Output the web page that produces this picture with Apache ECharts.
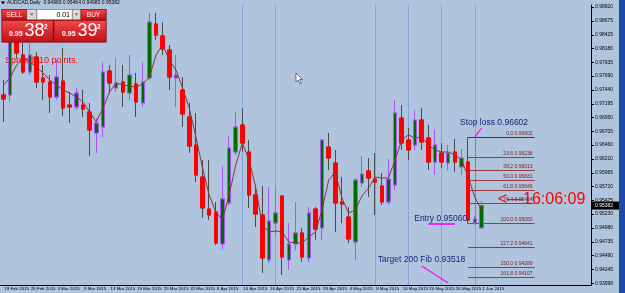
<!DOCTYPE html>
<html>
<head>
<meta charset="utf-8">
<script src="https://cdn.jsdelivr.net/npm/echarts@6/dist/echarts.min.js"></script>
<style>
  html, body { margin: 0; padding: 0; background: #b0c4de; }
  #main { width: 625px; height: 293px; }
</style>
</head>
<body>
<div id="main"></div>
<script>
// AUDCAD daily
const dates = ['19 Feb 2015','20 Feb 2015','23 Feb 2015','24 Feb 2015','25 Feb 2015','26 Feb 2015','27 Feb 2015',
  '2 Mar 2015','3 Mar 2015','4 Mar 2015','5 Mar 2015','6 Mar 2015','9 Mar 2015','10 Mar 2015','11 Mar 2015','12 Mar 2015','13 Mar 2015',
  '16 Mar 2015','17 Mar 2015','18 Mar 2015','19 Mar 2015','20 Mar 2015','23 Mar 2015','24 Mar 2015','25 Mar 2015','26 Mar 2015','27 Mar 2015',
  '30 Mar 2015','31 Mar 2015','1 Apr 2015','2 Apr 2015','3 Apr 2015','6 Apr 2015','7 Apr 2015','8 Apr 2015','9 Apr 2015','10 Apr 2015',
  '13 Apr 2015','14 Apr 2015','15 Apr 2015','16 Apr 2015','17 Apr 2015','20 Apr 2015','21 Apr 2015','22 Apr 2015','23 Apr 2015','24 Apr 2015',
  '27 Apr 2015','28 Apr 2015','29 Apr 2015','30 Apr 2015','1 May 2015','4 May 2015','5 May 2015','6 May 2015','7 May 2015','8 May 2015',
  '11 May 2015','12 May 2015','13 May 2015','14 May 2015','15 May 2015','18 May 2015','19 May 2015','20 May 2015','21 May 2015','22 May 2015',
  '25 May 2015','26 May 2015','27 May 2015','28 May 2015','29 May 2015','1 Jun 2015'];

const opens = [0.97352,0.97352,0.98332,0.98065,0.97762,0.98029,0.97655,0.97584,0.97316,0.97601,
  0.97174,0.97138,0.97174,0.97049,0.96675,0.96782,0.97780,0.97477,0.97584,0.97387,
  0.97548,0.97209,0.97655,0.98617,0.98403,0.98154,0.97655,0.97441,0.96960,0.96461,
  0.95891,0.95320,0.95267,0.94697,0.95427,0.96336,0.96817,0.96336,0.95570,0.95213,
  0.94412,0.95071,0.95552,0.94412,0.94697,0.94893,0.94447,0.95320,0.94982,0.96425,
  0.96140,0.95445,0.95178,0.94732,0.95784,0.95998,0.95855,0.95730,0.95445,0.95748,
  0.96942,0.96550,0.96461,0.96906,0.96586,0.96158,0.96318,0.96140,0.96336,0.96069,
  0.96158,0.95071,0.94983];
const closes = [0.97280,0.98368,0.98100,0.97762,0.98065,0.97584,0.97584,0.97316,0.97673,0.97120,
  0.97138,0.97387,0.97102,0.96728,0.96853,0.97762,0.97566,0.97566,0.97405,0.97708,
  0.97227,0.97584,0.98653,0.98421,0.98172,0.97673,0.97708,0.97013,0.96443,0.95926,
  0.95338,0.95213,0.94714,0.95499,0.96407,0.96782,0.96496,0.95570,0.95231,0.94447,
  0.95106,0.95249,0.94465,0.94697,0.94893,0.94465,0.95249,0.94964,0.96550,0.96229,
  0.95427,0.95409,0.94786,0.95837,0.95944,0.95873,0.95801,0.95445,0.95855,0.97031,
  0.96496,0.96372,0.96906,0.96514,0.96158,0.96461,0.96158,0.96318,0.96158,0.96229,
  0.95124,0.95142,0.95382];
const lows = [0.96871,0.97227,0.98011,0.97726,0.97708,0.97477,0.97263,0.97031,0.97263,0.96978,
  0.96853,0.97085,0.96960,0.96265,0.96318,0.96603,0.97387,0.97405,0.97138,0.97263,
  0.96960,0.97138,0.97619,0.98332,0.98065,0.97441,0.97138,0.96782,0.96318,0.95801,
  0.95160,0.95124,0.94679,0.94607,0.95392,0.96283,0.96336,0.95338,0.95000,0.94180,
  0.94358,0.94857,0.94144,0.94233,0.94590,0.94376,0.94376,0.94768,0.94768,0.96015,
  0.94910,0.95071,0.94714,0.94412,0.95712,0.95534,0.95213,0.95392,0.95392,0.95659,
  0.96372,0.96194,0.96372,0.96372,0.96015,0.95926,0.96051,0.96015,0.95980,0.95926,
  0.95060,0.95035,0.94983];
const highs = [0.97619,0.98510,0.98421,0.98278,0.98278,0.98118,0.97886,0.97708,0.97975,0.98189,
  0.97405,0.97477,0.97441,0.97209,0.96942,0.97940,0.97886,0.98011,0.97886,0.98065,
  0.97744,0.97940,0.98813,0.98813,0.98653,0.98243,0.98065,0.97673,0.97209,0.97031,
  0.96194,0.96194,0.95445,0.96087,0.96621,0.97049,0.97120,0.96550,0.95748,0.95730,
  0.95712,0.95712,0.95552,0.95071,0.95445,0.94982,0.95356,0.95356,0.96568,0.96675,
  0.96372,0.95891,0.95356,0.95873,0.96265,0.96229,0.96318,0.95962,0.96211,0.97263,
  0.97174,0.96764,0.97085,0.97120,0.96817,0.96728,0.96496,0.96461,0.96568,0.96389,
  0.96602,0.95196,0.95464];

// thin moving average drawn over the candles
const ma = [0.97530,0.97655,0.97886,0.98011,0.97940,0.97851,0.97744,0.97619,0.97530,0.97441,
  0.97387,0.97316,0.97227,0.97049,0.96871,0.97120,0.97405,0.97566,0.97530,0.97512,
  0.97494,0.97548,0.97673,0.98065,0.98243,0.97975,0.97797,0.97477,0.97120,0.96603,
  0.96051,0.95570,0.95267,0.95124,0.95570,0.96104,0.96496,0.96194,0.95712,0.95035,
  0.94910,0.94928,0.94910,0.94732,0.94714,0.94714,0.94821,0.94910,0.95302,0.95837,
  0.95980,0.95516,0.95249,0.95302,0.95552,0.95695,0.95891,0.95873,0.95873,0.96194,
  0.96550,0.96639,0.96586,0.96603,0.96461,0.96372,0.96336,0.96336,0.96283,0.96194,
  0.95891,0.95534,0.95302];

// fractal arrows [bar index, price]
const upFractals = [[9,0.98296],[12,0.97494],[17,0.98100],[20,0.97797],[24,0.98777],[36,0.97174],
  [42,0.95623],[50,0.96425],[55,0.96407],[68,0.96639]];
const downFractals = [[4,0.97673],[8,0.97209],[11,0.97049],[15,0.96568],[19,0.97191],[21,0.97102],
  [33,0.94536],[40,0.94287],[44,0.94554],[46,0.94305],[53,0.94340],[58,0.95338],[67,0.95962]];

// price scale labels on the right
const priceTicks = [0.98920,0.98675,0.98425,0.98180,0.97935,0.97690,0.97440,0.97195,0.96950,0.96705,
  0.96460,0.96210,0.95965,0.95720,0.95475,0.95230,0.94980,0.94735,0.94490,0.94245,0.93998];

// fibo retracement (28 May high -> low)
const fibRatios = [0, 23.6, 38.2, 50, 61.8, 76.4, 100, 127.2, 150, 161.8];
const fibPrices = [0.96602,0.96238,0.96013,0.95831,0.95649,0.95424,0.95060,0.94641,0.94289,0.94107];
const fibFrom = 70, fibTo = 80;

// week separators, trade levels
const separators = [36, 41, 56, 61, 66, 71];
const stopLoss = 0.96602, entry = 0.95060, target = 0.93518;
const lastClose = closes[closes.length - 1];

const cats = dates.concat(Array(16).fill(''));
const candles = dates.map((d, i) => [opens[i], closes[i], lows[i], highs[i]]);
const bodies = dates.map((d, i) => [opens[i], closes[i], Math.min(opens[i], closes[i]), Math.max(opens[i], closes[i])]);

const chart = echarts.init(document.getElementById('main'));

const option = {
  animation: false,
  backgroundColor: '#b0c4de',
  textStyle: { fontFamily: 'Arial' },
  grid: { left: -2.3, right: 34, top: 5, bottom: 8 },
  xAxis: {
    type: 'category',
    data: cats,
    boundaryGap: true,
    axisLine: { lineStyle: { color: '#000', width: 1 } },
    axisTick: { interval: 3, alignWithLabel: true, length: 2, lineStyle: { color: '#000' } },
    axisLabel: { interval: 3, showMinLabel: true, align: 'left', fontSize: 4.4, color: '#000', margin: 1.5, padding: [0, 0, 0, 1] },
    splitLine: { show: false }
  },
  yAxis: {
    type: 'value',
    position: 'right',
    min: 0.93966,
    max: 0.98956,
    axisLine: { show: true, lineStyle: { color: '#000' } },
    axisTick: { show: true, length: 3, customValues: priceTicks, lineStyle: { color: '#000' } },
    axisLabel: { customValues: priceTicks, formatter: v => v.toFixed(5), fontSize: 5, color: '#000', margin: 4 },
    splitLine: { show: false }
  },
  series: [
    {
      // full candles: give the wick colours
      type: 'candlestick',
      data: candles,
      barWidth: 4,
      z: 2,
      silent: true,
      itemStyle: {
        color: '#006c00', color0: '#ff0000',
        borderColor: '#a855f7', borderColor0: '#4a4a4a', borderColorDoji: '#a855f7',
        borderWidth: 1
      }
    },
    {
      // bodies again on top, so bear bodies keep a red edge
      type: 'candlestick',
      data: bodies,
      barWidth: 4,
      z: 3,
      silent: true,
      itemStyle: {
        color: '#006c00', color0: '#ff0000',
        borderColor: '#a855f7', borderColor0: '#ff0000', borderColorDoji: '#a855f7',
        borderWidth: 1
      }
    },
    {
      type: 'line',
      data: ma,
      symbol: 'none',
      z: 4,
      silent: true,
      lineStyle: { color: '#8b3434', width: 1 },
      markLine: {
        silent: true,
        symbol: ['none', 'none'],
        label: { show: false },
        lineStyle: { color: '#ff00ff', width: 1.2, type: 'solid' },
        data: [
          [{ coord: [71, stopLoss], lineStyle: { color: '#ff2020', type: 'dotted', width: 1 } }, { coord: [71, entry] }],
          [{ coord: [71, stopLoss] }, { coord: [72, 0.96764] }],
          [{ coord: [64, entry], lineStyle: { width: 1.6 } }, { coord: [68, entry] }],
          [{ coord: [63, 0.94305] }, { coord: [67, 0.94002] }]
        ]
      }
    },
    {
      type: 'scatter',
      data: upFractals,
      symbol: 'arrow',
      symbolSize: [5, 6],
      z: 1,
      silent: true,
      itemStyle: { color: '#87cefa' },
      markLine: {
        z: 1,
        silent: true,
        symbol: ['none', 'none'],
        label: { show: false },
        data: separators.map(i => ({ xAxis: i, lineStyle: { color: '#86a4dc', width: 1, type: 'solid' } }))
          .concat(fibRatios.map((r, k) => [
            {
              coord: [fibFrom, fibPrices[k]],
              lineStyle: { color: k === 0 ? '#3a3a3a' : '#9b3a3a', width: 1, type: 'solid' },
              label: {
                show: true, position: 'insideEndTop', distance: [2, 1],
                formatter: r.toFixed(1) + ' ' + fibPrices[k].toFixed(5),
                fontSize: 5, color: '#7a2020'
              }
            },
            { coord: [fibTo, fibPrices[k]] }
          ]))
      }
    },
    {
      type: 'scatter',
      data: downFractals,
      symbol: 'arrow',
      symbolRotate: 180,
      symbolSize: [5, 6],
      z: 1,
      silent: true,
      itemStyle: { color: '#87cefa' }
    }
  ]
};

chart.setOption(option);

// objects and panels of the terminal window
const px = (i, v) => chart.convertToPixel({ gridIndex: 0 }, [i, v]);
const navy = '#14237a';
const redGrad = { type: 'linear', x: 0, y: 0, x2: 0, y2: 1,
  colorStops: [{ offset: 0, color: '#f2474b' }, { offset: 1, color: '#bf1018' }] };

const pSL = px(69, stopLoss);
const pEntry = px(70, entry);
const pTarget = px(56, fibPrices[8]);
const pClock = px(74, lastClose);

const graphics = [
  // right window edge
  { type: 'rect', shape: { x: 619, y: 0, width: 6, height: 293 }, style: { fill: '#1c4aa8' }, z: 100 },
  // title
  { type: 'polygon', shape: { points: [[1, 1.5], [5, 1.5], [3, 4.5]] }, style: { fill: '#000' }, z: 100 },
  { type: 'text', x: 7, y: 3, style: { text: 'AUDCAD,Daily  0.94983 0.95464 0.94983 0.95382', fontSize: 5, fill: '#000', verticalAlign: 'middle', fontFamily: 'Arial' }, z: 100 },
  // spread text sits behind the candles
  { type: 'text', x: 5, y: 61, style: { text: 'Spread: 10 points.', fontSize: 9, fill: '#ff0000', verticalAlign: 'middle', fontFamily: 'Arial' }, z: 0 },
  // trade objects
  { type: 'text', x: pSL[0] - 1.5, y: pSL[1] - 14, style: { text: 'Stop loss 0.96602', fontSize: 8.5, fill: navy, verticalAlign: 'middle', fontFamily: 'Arial' }, z: 10 },
  { type: 'text', x: pEntry[0] - 1, y: pEntry[1] - 4.5, style: { text: 'Entry 0.95060', fontSize: 8.5, fill: navy, align: 'right', verticalAlign: 'middle', fontFamily: 'Arial' }, z: 10 },
  { type: 'text', x: pTarget[0] + 2.5, y: pTarget[1] - 7, style: { text: 'Target 200 Fib ' + target.toFixed(5), fontSize: 8.5, fill: navy, verticalAlign: 'middle', fontFamily: 'Arial' }, z: 10 },
  { type: 'text', x: pClock[0] + 3, y: pClock[1] - 5.5, style: { text: '<—16:06:09', fontSize: 16, fill: '#ff0000', verticalAlign: 'middle', fontFamily: 'Arial' }, z: 10 },
  // current price box on the scale
  { type: 'rect', shape: { x: 592, y: pClock[1] - 4, width: 27, height: 8 }, style: { fill: '#000' }, z: 100 },
  { type: 'text', x: 595, y: pClock[1], style: { text: lastClose.toFixed(5), fontSize: 5, fill: '#fff', verticalAlign: 'middle', fontFamily: 'Arial' }, z: 101 },
  // mouse cursor
  { type: 'polygon', shape: { points: [[296, 73], [296, 82], [298.2, 80], [300, 83.8], [301.4, 83.2], [299.6, 79.5], [302.4, 79.5]] },
    style: { fill: '#fff', stroke: '#222', lineWidth: 0.6 }, z: 100 },
  // one click trading panel
  { type: 'rect', shape: { x: 1.5, y: 9, width: 105, height: 33.5 }, style: { fill: '#7d0c10' }, z: 100 },
  { type: 'rect', shape: { x: 2, y: 9.5, width: 24.5, height: 10 }, style: { fill: redGrad, stroke: '#9a1016', lineWidth: 0.5 }, z: 101 },
  { type: 'text', x: 14.3, y: 14.8, style: { text: 'SELL', fontSize: 6.5, fill: '#fff', align: 'center', verticalAlign: 'middle', fontFamily: 'Arial' }, z: 102 },
  { type: 'rect', shape: { x: 27, y: 9.5, width: 9.5, height: 10 }, style: { fill: '#d9d9d9', stroke: '#9a9a9a', lineWidth: 0.5 }, z: 101 },
  { type: 'polygon', shape: { points: [[30, 13.5], [33.5, 13.5], [31.75, 15.5]] }, style: { fill: '#555' }, z: 102 },
  { type: 'rect', shape: { x: 37, y: 9.5, width: 35, height: 10 }, style: { fill: '#fff', stroke: '#9a9a9a', lineWidth: 0.5 }, z: 101 },
  { type: 'text', x: 70, y: 14.8, style: { text: '0.01', fontSize: 7, fill: '#000', align: 'right', verticalAlign: 'middle', fontFamily: 'Arial' }, z: 102 },
  { type: 'rect', shape: { x: 72.5, y: 9.5, width: 8, height: 10 }, style: { fill: '#d9d9d9', stroke: '#9a9a9a', lineWidth: 0.5 }, z: 101 },
  { type: 'polygon', shape: { points: [[74.8, 13.5], [78.2, 13.5], [76.5, 15.5]] }, style: { fill: '#555' }, z: 102 },
  { type: 'rect', shape: { x: 81, y: 9.5, width: 25, height: 10 }, style: { fill: redGrad, stroke: '#9a1016', lineWidth: 0.5 }, z: 101 },
  { type: 'text', x: 93.5, y: 14.8, style: { text: 'BUY', fontSize: 6.5, fill: '#fff', align: 'center', verticalAlign: 'middle', fontFamily: 'Arial' }, z: 102 },
  { type: 'rect', shape: { x: 2, y: 20.5, width: 51, height: 21.5 }, style: { fill: redGrad, stroke: '#8a0c12', lineWidth: 0.5 }, z: 101 },
  { type: 'rect', shape: { x: 54, y: 20.5, width: 52, height: 21.5 }, style: { fill: redGrad, stroke: '#8a0c12', lineWidth: 0.5 }, z: 101 },
  { type: 'text', x: 9, y: 34.5, style: { text: '0.95', fontSize: 7, fontWeight: 'bold', fill: '#fff', verticalAlign: 'middle', fontFamily: 'Arial' }, z: 102 },
  { type: 'text', x: 24.5, y: 31.5, style: { text: '38', fontSize: 18, fill: '#fff', verticalAlign: 'middle', fontFamily: 'Arial' }, z: 102 },
  { type: 'text', x: 44, y: 27.5, style: { text: '2', fontSize: 6.5, fontWeight: 'bold', fill: '#fff', verticalAlign: 'middle', fontFamily: 'Arial' }, z: 102 },
  { type: 'text', x: 62, y: 34.5, style: { text: '0.95', fontSize: 7, fontWeight: 'bold', fill: '#fff', verticalAlign: 'middle', fontFamily: 'Arial' }, z: 102 },
  { type: 'text', x: 77.5, y: 31.5, style: { text: '39', fontSize: 18, fill: '#fff', verticalAlign: 'middle', fontFamily: 'Arial' }, z: 102 },
  { type: 'text', x: 97, y: 27.5, style: { text: '2', fontSize: 6.5, fontWeight: 'bold', fill: '#fff', verticalAlign: 'middle', fontFamily: 'Arial' }, z: 102 }
];

chart.setOption({ graphic: graphics });
</script>
</body>
</html>
